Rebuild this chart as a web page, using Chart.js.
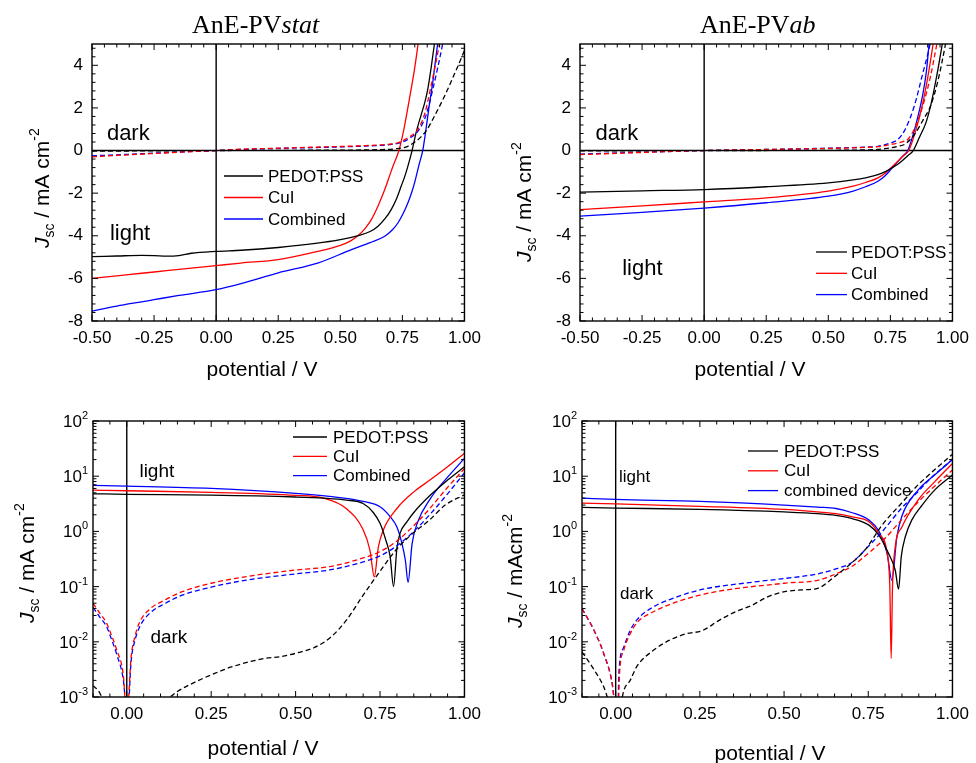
<!DOCTYPE html>
<html>
<head>
<meta charset="utf-8">
<script src="https://cdn.jsdelivr.net/npm/chart.js@4.4.1/dist/chart.umd.min.js"></script>
<style>
  body { margin: 0; background: #fff; }
  #fig { position: relative; width: 976px; height: 763px; overflow: hidden; }
  canvas { position: absolute; }
</style>
</head>
<body>
<div id="fig">
  <canvas id="statLin" width="488" height="390" style="left:0;top:0"></canvas>
  <canvas id="abLin" width="488" height="390" style="left:488px;top:0"></canvas>
  <canvas id="statLog" width="488" height="373" style="left:0;top:390px"></canvas>
  <canvas id="abLog" width="488" height="373" style="left:488px;top:390px"></canvas>
</div>
<script>
const SANS = "'Liberation Sans', Arial, Helvetica, sans-serif";
const SERIF = "'Liberation Serif', 'Times New Roman', serif";
Chart.defaults.font.family = SANS;
Chart.defaults.color = "#000";

// [potential / V, J / mA cm-2]  -- AnE-PVstat, linear panel
const statLinPedotLight = [[-0.5,-4.98],[-0.4,-4.95],[-0.3,-4.92],[-0.25,-4.93],[-0.2,-4.96],[-0.15,-4.93],[-0.1,-4.82],[0,-4.73],[0.1,-4.68],[0.25,-4.55],[0.4,-4.36],[0.5,-4.18],[0.572,-3.99],[0.62,-3.8],[0.652,-3.55],[0.68,-3.2],[0.705,-2.77],[0.725,-2.3],[0.745,-1.68],[0.76,-1.2],[0.772,-0.74],[0.789,0],[0.805,0.83],[0.825,1.65],[0.84,2.25],[0.852,2.86],[0.866,3.9],[0.879,5.0],[0.895,6.5]];
const statLinCuiLight = [[-0.5,-6.0],[-0.4,-5.88],[-0.3,-5.76],[-0.2,-5.64],[-0.1,-5.52],[0,-5.4],[0.1,-5.28],[0.25,-5.12],[0.4,-4.76],[0.5,-4.45],[0.54,-4.25],[0.572,-3.99],[0.6,-3.65],[0.625,-3.24],[0.652,-2.6],[0.679,-1.83],[0.695,-1.3],[0.712,-0.74],[0.736,0],[0.756,0.99],[0.772,2.0],[0.785,2.86],[0.8,3.9],[0.812,4.9],[0.83,6.5]];
const statLinCombLight = [[-0.5,-7.54],[-0.4,-7.3],[-0.3,-7.1],[-0.25,-7.0],[-0.15,-6.8],[0,-6.53],[0.1,-6.25],[0.25,-5.74],[0.412,-5.27],[0.545,-4.65],[0.62,-4.32],[0.679,-4.02],[0.71,-3.72],[0.732,-3.4],[0.752,-2.98],[0.772,-2.46],[0.787,-1.98],[0.799,-1.52],[0.81,-1.0],[0.819,-0.58],[0.832,0],[0.845,0.99],[0.858,2.1],[0.872,3.18],[0.882,4.1],[0.892,5.0],[0.91,6.5]];
const statLinPedotDark = [[-0.5,-0.03],[-0.25,-0.015],[0,0],[0.25,0.01],[0.5,0.02],[0.65,0.04],[0.72,0.08],[0.772,0.2],[0.8,0.4],[0.825,0.64],[0.85,1.0],[0.879,1.61],[0.905,2.2],[0.932,2.86],[0.96,3.6],[0.985,4.27],[1.0,4.7]];
const statLinCuiDark = [[-0.5,-0.3],[-0.4,-0.23],[-0.3,-0.17],[-0.25,-0.14],[-0.15,-0.08],[0,0],[0.1,0.06],[0.25,0.11],[0.4,0.16],[0.5,0.19],[0.6,0.23],[0.7,0.3],[0.732,0.36],[0.772,0.6],[0.812,0.99],[0.839,1.69],[0.865,3.0],[0.899,5.0],[0.92,6.5]];
const statLinCombDark = [[-0.5,-0.25],[-0.4,-0.2],[-0.3,-0.15],[-0.25,-0.12],[-0.15,-0.07],[0,0],[0.1,0.05],[0.25,0.1],[0.4,0.14],[0.5,0.17],[0.6,0.21],[0.7,0.28],[0.74,0.36],[0.78,0.58],[0.815,0.95],[0.845,1.65],[0.875,3.0],[0.912,5.0],[0.93,6.2]];

// AnE-PVab, linear panel
const abLinPedotLight = [[-0.5,-1.95],[-0.25,-1.89],[0,-1.83],[0.25,-1.7],[0.5,-1.52],[0.6,-1.38],[0.65,-1.28],[0.7,-1.13],[0.73,-0.99],[0.755,-0.82],[0.78,-0.64],[0.8,-0.46],[0.82,-0.24],[0.842,0],[0.868,0.65],[0.893,1.3],[0.91,2.0],[0.926,2.86],[0.943,3.9],[0.959,5.0],[0.98,6.5]];
const abLinCuiLight = [[-0.5,-2.77],[-0.25,-2.6],[0,-2.41],[0.25,-2.22],[0.5,-1.9],[0.6,-1.67],[0.65,-1.5],[0.7,-1.28],[0.73,-1.05],[0.755,-0.78],[0.78,-0.5],[0.8,-0.27],[0.824,0],[0.85,0.85],[0.88,2.2],[0.9,3.4],[0.922,5.0],[0.94,6.5]];
const abLinCombLight = [[-0.5,-3.08],[-0.25,-2.9],[0,-2.7],[0.25,-2.45],[0.5,-2.14],[0.6,-1.9],[0.65,-1.7],[0.7,-1.44],[0.73,-1.17],[0.755,-0.85],[0.78,-0.52],[0.8,-0.26],[0.82,0],[0.85,1.1],[0.88,2.6],[0.895,3.7],[0.906,5.0],[0.925,6.5]];
const abLinPedotDark = [[-0.5,-0.02],[0,0],[0.5,0.01],[0.65,0.03],[0.7,0.05],[0.75,0.12],[0.78,0.2],[0.81,0.31],[0.85,0.8],[0.88,1.4],[0.912,2.1],[0.94,3.2],[0.972,5.0],[0.99,6.2]];
const abLinCuiDark = [[-0.5,-0.19],[-0.4,-0.15],[-0.25,-0.09],[0,0],[0.25,0.05],[0.5,0.1],[0.65,0.15],[0.7,0.18],[0.75,0.28],[0.8,0.42],[0.82,0.52],[0.85,1.1],[0.88,2.08],[0.91,3.4],[0.937,5.0],[0.96,6.5]];
const abLinCombDark = [[-0.5,-0.17],[-0.4,-0.13],[-0.25,-0.08],[0,0],[0.25,0.05],[0.5,0.11],[0.65,0.16],[0.7,0.2],[0.75,0.36],[0.78,0.52],[0.81,1.0],[0.846,2.08],[0.88,3.6],[0.91,5.0],[0.93,6.3]];

// AnE-PVstat, |J| on log panel
const statLogPedotLight = [[-0.1,4.8],[0,4.7],[0.25,4.55],[0.5,4.2],[0.583,4.0],[0.65,3.7],[0.7,3.2],[0.73,2.2],[0.75,1.4],[0.767,0.7],[0.78,0.35],[0.79,0.1],[0.8,0.5],[0.81,0.95],[0.83,1.5],[0.85,2.2],[0.9,4.6],[0.95,8.5],[1.0,14.8]];
const statLogCuiLight = [[-0.1,5.6],[0,5.45],[0.25,5.1],[0.5,4.5],[0.583,4.0],[0.65,2.6],[0.7,1.07],[0.72,0.46],[0.733,0.15],[0.745,0.52],[0.76,1.07],[0.8,2.6],[0.85,5.2],[0.9,8.7],[0.95,14.8],[1.0,26]];
const statLogCombLight = [[-0.1,6.8],[0,6.6],[0.25,6.0],[0.5,4.9],[0.6,4.3],[0.7,3.5],[0.75,2.8],[0.78,1.85],[0.8,1.2],[0.815,0.6],[0.825,0.3],[0.833,0.12],[0.845,0.6],[0.86,1.4],[0.9,4.0],[0.95,9.6],[1.0,21]];
const statLogPedotDark = [[-0.1,0.0016],[-0.084,0.0013],[-0.07,0.0009],[-0.03,0.0004],[0,0.0002],[0.05,0.0004],[0.1,0.0007],[0.145,0.0012],[0.213,0.002],[0.262,0.0027],[0.31,0.0035],[0.408,0.005],[0.456,0.0054],[0.505,0.0063],[0.554,0.0078],[0.602,0.0118],[0.651,0.025],[0.7,0.07],[0.75,0.19],[0.797,0.46],[0.846,0.91],[0.895,1.58],[0.943,3.0],[1.0,4.6]];
const statLogCuiDark = [[-0.1,0.05],[-0.08,0.033],[-0.06,0.022],[-0.045,0.013],[-0.03,0.0072],[-0.01,0.0024],[0,0.0004],[0.013,0.0054],[0.025,0.013],[0.037,0.022],[0.066,0.038],[0.115,0.058],[0.164,0.081],[0.25,0.115],[0.35,0.15],[0.5,0.2],[0.6,0.23],[0.7,0.33],[0.75,0.43],[0.797,0.65],[0.846,1.2],[0.895,2.5],[0.943,5.6],[1.0,13.8]];
const statLogCombDark = [[-0.1,0.042],[-0.08,0.028],[-0.06,0.019],[-0.045,0.011],[-0.03,0.006],[-0.01,0.002],[0.002,0.0004],[0.013,0.0045],[0.025,0.011],[0.037,0.018],[0.066,0.032],[0.115,0.05],[0.164,0.07],[0.25,0.098],[0.35,0.13],[0.5,0.17],[0.6,0.2],[0.7,0.28],[0.75,0.36],[0.8,0.55],[0.85,1.0],[0.9,2.1],[0.95,4.8],[1.0,11.5]];

// AnE-PVab, |J| on log panel
const abLogPedotLight = [[-0.1,2.72],[0,2.65],[0.25,2.5],[0.5,2.25],[0.6,2.1],[0.654,1.95],[0.7,1.72],[0.752,1.3],[0.782,0.85],[0.81,0.4],[0.83,0.2],[0.84,0.09],[0.848,0.35],[0.86,0.8],[0.879,1.6],[0.91,3.0],[0.947,5.6],[1.0,10.5]];
const abLogCuiLight = [[-0.1,3.25],[0,3.15],[0.25,2.85],[0.5,2.5],[0.6,2.25],[0.654,2.1],[0.7,1.85],[0.752,1.5],[0.782,0.9],[0.806,0.4],[0.814,0.1],[0.818,0.005],[0.822,0.1],[0.83,0.52],[0.85,1.2],[0.898,3.7],[0.947,7.9],[1.0,17]];
const abLogCombLight = [[-0.1,4.0],[0,3.8],[0.25,3.5],[0.5,3.0],[0.6,2.75],[0.654,2.6],[0.7,2.2],[0.752,1.6],[0.782,1.0],[0.806,0.4],[0.82,0.13],[0.835,0.8],[0.85,1.9],[0.898,5.6],[0.947,10.5],[1.0,20]];
const abLogPedotDark = [[-0.1,0.0066],[-0.064,0.0031],[-0.035,0.0015],[-0.02,0.0008],[0,0.0003],[0.015,0.0007],[0.024,0.0013],[0.043,0.002],[0.063,0.0036],[0.112,0.007],[0.16,0.0107],[0.21,0.014],[0.258,0.016],[0.307,0.0245],[0.356,0.035],[0.405,0.046],[0.453,0.066],[0.502,0.081],[0.551,0.087],[0.6,0.093],[0.649,0.15],[0.698,0.26],[0.74,0.46],[0.795,1.4],[0.848,3.2],[0.893,6.5],[0.946,12.9],[1.0,25]];
const abLogCuiDark = [[-0.1,0.04],[-0.064,0.016],[-0.035,0.006],[-0.01,0.0017],[0.005,0.0003],[0.012,0.003],[0.024,0.007],[0.043,0.014],[0.063,0.022],[0.112,0.035],[0.25,0.07],[0.5,0.115],[0.6,0.13],[0.654,0.17],[0.7,0.23],[0.75,0.4],[0.8,0.75],[0.848,1.6],[0.9,3.5],[0.946,6.5],[1.0,13]];
const abLogCombDark = [[-0.1,0.04],[-0.064,0.016],[-0.035,0.006],[-0.01,0.0017],[0.005,0.0003],[0.01,0.003],[0.024,0.008],[0.043,0.016],[0.063,0.025],[0.112,0.043],[0.16,0.058],[0.25,0.087],[0.405,0.12],[0.5,0.14],[0.6,0.17],[0.654,0.21],[0.7,0.27],[0.752,0.55],[0.795,1.05],[0.848,2.6],[0.893,4.9],[0.94,9.8],[1.0,20]];

const statLabels = ["PEDOT:PSS", "CuI", "Combined"];
const abLabels = ["PEDOT:PSS", "CuI", "Combined"];
const abLogLabels = ["PEDOT:PSS", "CuI", "combined device"];
const colors = ["#000000", "#ff0000", "#0000ff"];

function drawRich(ctx, parts, x, y, rot, align) {
  ctx.save();
  ctx.translate(x, y);
  ctx.rotate(rot || 0);
  ctx.textAlign = "left";
  ctx.textBaseline = "alphabetic";
  ctx.fillStyle = "#000";
  const fontOf = (p) => (p.italic ? "italic " : "") + p.size + "px " + (p.family || SANS);
  let total = 0;
  for (const p of parts) { ctx.font = fontOf(p); total += ctx.measureText(p.t).width; }
  let u = align === "center" ? -total / 2 : align === "right" ? -total : 0;
  for (const p of parts) {
    ctx.font = fontOf(p);
    ctx.fillText(p.t, u, p.dy || 0);
    u += ctx.measureText(p.t).width;
  }
  ctx.restore();
}

function stepValues(min, max, step) {
  const out = [];
  for (let i = Math.ceil(min / step - 1e-9); i * step <= max + 1e-9; i++) out.push(i * step);
  return out;
}
function onStep(v, step) {
  const r = v / step;
  return Math.abs(r - Math.round(r)) < 1e-6;
}

const figurePlugin = {
  id: "figure",
  beforeDatasetsDraw(chart, args, o) {
    const { ctx, chartArea: a, scales } = chart;
    ctx.save();
    ctx.strokeStyle = "#000";
    ctx.lineWidth = 1.4;
    ctx.beginPath();
    const x0 = scales.x.getPixelForValue(0);
    ctx.moveTo(x0, a.top);
    ctx.lineTo(x0, a.bottom);
    if (o.zeroLine) {
      const y0 = scales.y.getPixelForValue(0);
      ctx.moveTo(a.left, y0);
      ctx.lineTo(a.right, y0);
    }
    ctx.stroke();
    ctx.restore();
  },
  afterDraw(chart, args, o) {
    const { ctx, chartArea: a, scales } = chart;
    const x = scales.x, y = scales.y;
    ctx.save();
    ctx.strokeStyle = "#000";
    ctx.lineWidth = 1.4;
    ctx.strokeRect(a.left, a.top, a.right - a.left, a.bottom - a.top);

    // inward ticks on all four sides
    ctx.lineWidth = 1;
    ctx.beginPath();
    for (const v of stepValues(x.min, x.max, o.xMinor)) {
      const len = onStep(v, o.xMajor) ? 6 : 3.5;
      const px = x.getPixelForValue(v);
      ctx.moveTo(px, a.bottom); ctx.lineTo(px, a.bottom - len);
      ctx.moveTo(px, a.top); ctx.lineTo(px, a.top + len);
    }
    let yTicks = [];
    if (o.log) {
      for (let e = -3; e < 2; e++) for (let k = 1; k <= 9; k++) yTicks.push([k * Math.pow(10, e), k === 1]);
      yTicks.push([100, true]);
    } else {
      yTicks = stepValues(y.min, y.max, o.yMinor).map((v) => [v, onStep(v, o.yMajor)]);
    }
    for (const [v, major] of yTicks) {
      const len = major ? 6 : 3.5;
      const py = y.getPixelForValue(v);
      ctx.moveTo(a.left, py); ctx.lineTo(a.left + len, py);
      ctx.moveTo(a.right, py); ctx.lineTo(a.right - len, py);
    }
    ctx.stroke();

    // decade labels of the log axis
    if (o.log) {
      for (let e = -3; e <= 2; e++) {
        const py = y.getPixelForValue(Math.pow(10, e));
        drawRich(ctx, [
          { t: "10", size: 17 },
          { t: e < 0 ? "-" + (-e) : String(e), size: 11, dy: -8 }
        ], a.left - 5, py + 6, 0, "right");
      }
    }

    // legend
    const lg = o.legend;
    ctx.font = "17px " + SANS;
    ctx.textBaseline = "middle";
    ctx.textAlign = "left";
    lg.labels.forEach((label, i) => {
      const ly = lg.y + i * lg.dy;
      ctx.strokeStyle = colors[i];
      ctx.lineWidth = 1.3;
      ctx.beginPath();
      ctx.moveTo(lg.x, ly); ctx.lineTo(lg.x + lg.len, ly);
      ctx.stroke();
      ctx.fillStyle = "#000";
      ctx.fillText(label, lg.textX, ly + 1);
    });

    // dark / light notes
    for (const n of o.notes) {
      ctx.font = n.size + "px " + SANS;
      ctx.fillStyle = "#000";
      ctx.fillText(n.t, x.getPixelForValue(n.v), y.getPixelForValue(n.j));
    }

    // titles
    if (o.title) drawRich(ctx, o.title.parts, o.title.x, o.title.y);
    drawRich(ctx, [{ t: "potential / V", size: 21 }], o.xTitle.x, o.xTitle.y, 0, "center");
    drawRich(ctx, [
      { t: "J", size: 21, italic: true },
      { t: "sc", size: 14, dy: 5 },
      { t: o.yUnit, size: 21 },
      { t: "-2", size: 14, dy: -10 }
    ], o.yTitle.x, o.yTitle.y, -Math.PI / 2);
    ctx.restore();
  }
};

function series(points, color, dashed) {
  return {
    data: points.map((p) => ({ x: p[0], y: p[1] })),
    borderColor: color,
    borderWidth: 1.3,
    borderDash: dashed ? [5, 3] : [],
    pointRadius: 0,
    cubicInterpolationMode: "monotone",
    fill: false
  };
}

function makePanel(id, curves, spec) {
  const yScale = spec.fig.log
    ? { type: "logarithmic", min: 0.001, max: 100, ticks: { display: false } }
    : {
        type: "linear", min: spec.yMin, max: spec.yMax,
        ticks: { stepSize: spec.fig.yMajor, includeBounds: false, autoSkip: false, padding: 9, font: { size: 17 }, color: "#000" }
      };
  yScale.grid = { display: false, drawTicks: false };
  yScale.border = { display: false };
  yScale.afterFit = (s) => { s.width = spec.yWidth; };

  new Chart(document.getElementById(id), {
    type: "line",
    data: {
      datasets: [
        series(curves[3], colors[0], true),
        series(curves[4], colors[1], true),
        series(curves[5], colors[2], true),
        series(curves[0], colors[0], false),
        series(curves[1], colors[1], false),
        series(curves[2], colors[2], false)
      ]
    },
    options: {
      responsive: false,
      animation: false,
      events: [],
      layout: { padding: spec.padding },
      plugins: { legend: { display: false }, tooltip: { enabled: false }, figure: spec.fig },
      scales: {
        x: {
          type: "linear", min: spec.xMin, max: 1.0,
          grid: { display: false, drawTicks: false },
          border: { display: false },
          ticks: {
            stepSize: 0.25, includeBounds: false, autoSkip: false, maxRotation: 0,
            padding: 7, font: { size: 17 }, color: "#000",
            callback: (v) => Number(v).toFixed(2)
          },
          afterFit: (s) => { s.height = spec.xHeight; }
        },
        y: yScale
      }
    },
    plugins: [figurePlugin]
  });
}

makePanel("statLin",
  [statLinPedotLight, statLinCuiLight, statLinCombLight, statLinPedotDark, statLinCuiDark, statLinCombDark],
  {
    xMin: -0.5, yMin: -8, yMax: 5, yWidth: 92, xHeight: 69,
    padding: { left: 0, top: 44, right: 21, bottom: 0 },
    fig: {
      xMajor: 0.25, xMinor: 0.05, yMajor: 2, yMinor: 0.4, zeroLine: true,
      legend: { x: 224, y: 176, dy: 21.5, len: 39, textX: 268, labels: statLabels },
      notes: [{ t: "dark", v: -0.44, j: 0.78, size: 22 }, { t: "light", v: -0.428, j: -3.9, size: 22 }],
      title: { x: 192, y: 33, parts: [{ t: "AnE-PV", size: 26, family: SERIF }, { t: "stat", size: 26, italic: true, family: SERIF }] },
      xTitle: { x: 262, y: 376 },
      yTitle: { x: 49, y: 248 },
      yUnit: " / mA cm"
    }
  });

makePanel("abLin",
  [abLinPedotLight, abLinCuiLight, abLinCombLight, abLinPedotDark, abLinCuiDark, abLinCombDark],
  {
    xMin: -0.5, yMin: -8, yMax: 5, yWidth: 92, xHeight: 69,
    padding: { left: 0, top: 44, right: 19, bottom: 0 },
    fig: {
      xMajor: 0.25, xMinor: 0.05, yMajor: 2, yMinor: 0.4, zeroLine: true,
      legend: { x: 328, y: 252, dy: 21.3, len: 31, textX: 363, labels: abLabels },
      notes: [{ t: "dark", v: -0.4375, j: 0.78, size: 22 }, { t: "light", v: -0.33, j: -5.58, size: 22 }],
      title: { x: 212, y: 33, parts: [{ t: "AnE-PV", size: 26, family: SERIF }, { t: "ab", size: 26, italic: true, family: SERIF }] },
      xTitle: { x: 262, y: 376 },
      yTitle: { x: 43, y: 262 },
      yUnit: " / mA cm"
    }
  });

makePanel("statLog",
  [statLogPedotLight, statLogCuiLight, statLogCombLight, statLogPedotDark, statLogCuiDark, statLogCombDark],
  {
    xMin: -0.1, yWidth: 93, xHeight: 66,
    padding: { left: 0, top: 31, right: 19, bottom: 0 },
    fig: {
      log: true, xMajor: 0.25, xMinor: 0.05,
      legend: { x: 293, y: 47, dy: 19.3, len: 34, textX: 333, labels: statLabels },
      notes: [{ t: "light", v: 0.0375, j: 11.9, size: 19 }, { t: "dark", v: 0.07, j: 0.0116, size: 19 }],
      xTitle: { x: 263, y: 365 },
      yTitle: { x: 34, y: 233 },
      yUnit: " / mA cm"
    }
  });

makePanel("abLog",
  [abLogPedotLight, abLogCuiLight, abLogCombLight, abLogPedotDark, abLogCuiDark, abLogCombDark],
  {
    xMin: -0.1, yWidth: 94, xHeight: 66,
    padding: { left: 0, top: 31, right: 18, bottom: 0 },
    fig: {
      log: true, xMajor: 0.25, xMinor: 0.05,
      legend: { x: 260, y: 61, dy: 19.8, len: 30, textX: 296, labels: abLogLabels },
      notes: [{ t: "light", v: 0.01, j: 9.6, size: 17 }, { t: "dark", v: 0.013, j: 0.072, size: 17 }],
      xTitle: { x: 282, y: 370 },
      yTitle: { x: 34, y: 238 },
      yUnit: " / mAcm"
    }
  });
</script>
</body>
</html>
